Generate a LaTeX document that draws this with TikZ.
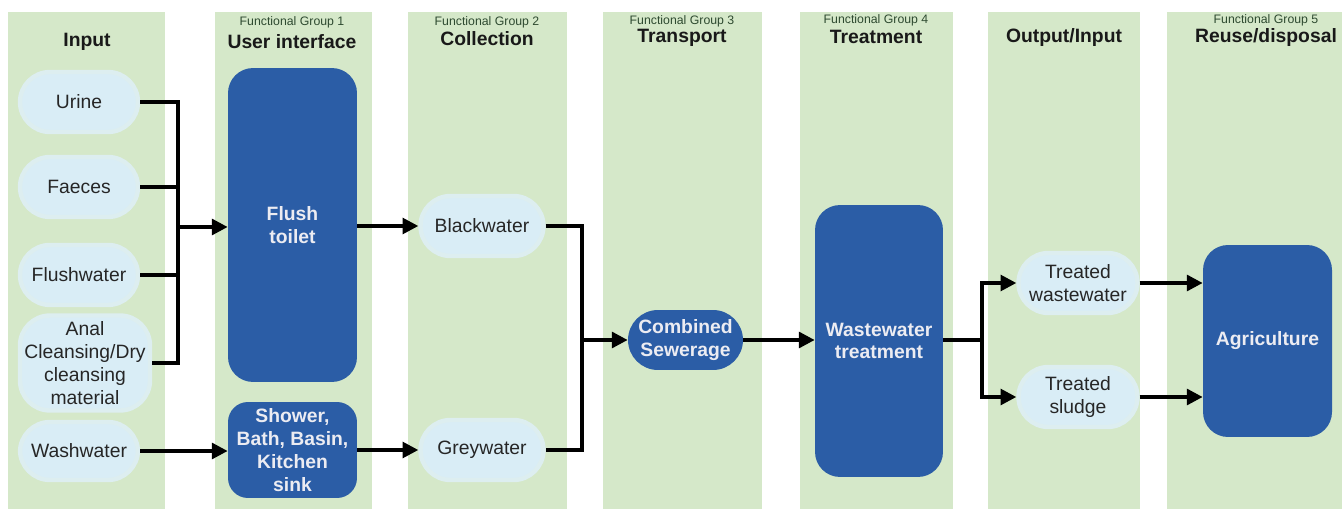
\documentclass[tikz,border=0pt]{standalone}
\usepackage{fontspec}
\setmainfont{Liberation Sans}
\usepackage{tikz}
\usetikzlibrary{arrows.meta, positioning}
\definecolor{band}{HTML}{D5E8C9}
\definecolor{blob}{HTML}{D9EDF6}
\definecolor{blobrim}{HTML}{DDEEF0}
\definecolor{unit}{HTML}{2B5DA6}
\definecolor{unittext}{HTML}{ECECF2}
\definecolor{fgtext}{HTML}{2E4A30}

\tikzset{
  title/.style={font=\fontsize{11}{13}\selectfont\bfseries, text=black!90},
  fg/.style={font=\fontsize{7}{8}\selectfont, text=fgtext},
  prod/.style={fill=blob, draw=blobrim, line width=2.5pt, rounded corners=0.6cm,
    minimum width=2.36cm, minimum height=1.2cm, align=center, inner sep=1pt,
    font=\fontsize{11}{13}\selectfont, text=black!85},
  tech/.style={fill=unit, rounded corners=0.5cm, align=center, inner sep=1pt,
    minimum width=2.58cm, font=\fontsize{11}{13}\selectfont\bfseries, text=unittext},
  flow/.style={line width=2pt, line join=miter}
}

\begin{document}
\begin{tikzpicture}[x=0.02cm,y=-0.02cm,>={Triangle[length=9pt,width=9pt]},node distance=1.75cm,on grid]
   \useasboundingbox (0,0) rectangle (1342,513);
   % columns
   \foreach \a/\b in {8/165, 215/372, 408/567, 603/762, 800/953, 988/1140, 1167/1342}
      \fill[band] (\a,12) rectangle (\b,509);

   % headings
   \node[title] (h0) at (87,42) {Input};
   \node[fg]    (g1) at (292,22) {Functional Group 1};
   \node[title] (h1) at (292,42) {User interface};
   \node[fg]    (g2) at (487,22) {Functional Group 2};
   \node[title] (h2) at (487,39) {Collection};
   \node[fg]    (g3) at (682,21) {Functional Group 3};
   \node[title] (h3) at (682,38) {Transport};
   \node[fg]    (g4) at (876,20) {Functional Group 4};
   \node[title] (h4) at (876,37) {Treatment};
   \node[title] (h5) at (1064,38) {Output/Input};
   \node[fg]    (g5) at (1266,20) {Functional Group 5};
   \node[title] (h6) at (1266,38) {Reuse/disposal};

   % inputs
   \node[prod] (urine) at (79,102) {Urine};
   \node[prod] (faeces) [below=1.7cm of urine] {Faeces};
   \node[prod] (flush) [below=1.76cm of faeces] {Flushwater};
   \node[prod, minimum width=2.6cm, minimum height=1.9cm] (anal) at (85,363)
      {Anal\\Cleansing/Dry\\cleansing\\material};
   \node[prod, minimum height=1.16cm] (wash) at (79,451) {Washwater};

   % user interface
   \node[tech, minimum height=6.28cm] (toilet) at (292.5,225) {Flush\\toilet};
   \node[tech, minimum height=1.92cm, rounded corners=0.4cm] (shower) at (292.5,450)
      {Shower,\\Bath, Basin,\\Kitchen\\sink};

   % collection
   \node[prod, minimum width=2.46cm] (black) at (482,226) {Blackwater};
   \node[prod, minimum width=2.46cm] (grey) at (482,450) {Greywater};

   % transport and treatment
   \node[tech, minimum width=2.3cm, minimum height=1.2cm, rounded corners=0.6cm] (sewer) at (685.5,340)
      {Combined\\Sewerage};
   \node[tech, minimum width=2.56cm, minimum height=5.44cm] (wwtp) at (879,341)
      {Wastewater\\treatment};

   % output and reuse
   \node[prod, minimum width=2.38cm] (twater) at (1078,283) {Treated\\wastewater};
   \node[prod, minimum width=2.38cm] (tsludge) at (1078,397) {Treated\\sludge};
   \node[tech, minimum height=3.84cm] (agri) at (1267.5,341) {Agriculture};

   % junctions
   \coordinate (j1) at (178,227);
   \coordinate (j2) at (582,340);
   \coordinate (j3) at (982,340);

   \draw[flow] (urine.east) -| (j1) |- (anal.east);
   \draw[flow] (faeces.east) -- (faeces.east -| j1);
   \draw[flow] (flush.east) -- (flush.east -| j1);
   \draw[flow,->] (j1) -- (j1 -| toilet.west);
   \draw[flow,->] (wash.east) -- (wash.east -| shower.west);

   \draw[flow,->] (toilet.east |- black) -- (black.west);
   \draw[flow,->] (shower.east |- grey) -- (grey.west);

   \draw[flow] (black.east) -| (j2) |- (grey.east);
   \draw[flow,->] (j2) -- (sewer.west);
   \draw[flow,->] (sewer.east) -- (wwtp.west |- sewer);

   \draw[flow] (wwtp.east |- j3) -- (j3);
   \draw[flow,->] (j3) |- (twater.west);
   \draw[flow,->] (j3) |- (tsludge.west);
   \draw[flow,->] (twater.east) -- (twater.east -| agri.west);
   \draw[flow,->] (tsludge.east) -- (tsludge.east -| agri.west);
\end{tikzpicture}
\end{document}
